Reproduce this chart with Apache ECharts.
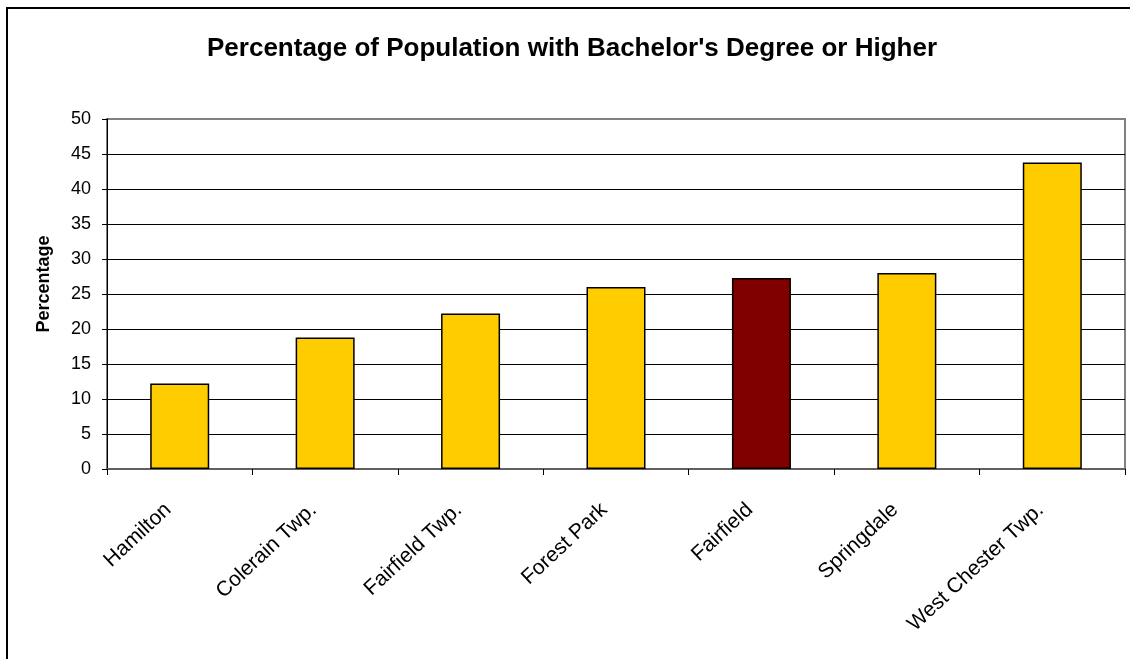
<!DOCTYPE html>
<html>
<head>
<meta charset="utf-8">
<script src="https://cdn.jsdelivr.net/npm/echarts@6/dist/echarts.min.js"></script>
<style>
  html, body { margin: 0; padding: 0; background: #fff; }
  #chart { width: 1130px; height: 659px; }
</style>
</head>
<body>
<div id="chart"></div>
<script>
const categories = ['Hamilton', 'Colerain Twp.', 'Fairfield Twp.', 'Forest Park', 'Fairfield', 'Springdale', 'West Chester Twp.'];
const values = [12.2, 18.8, 22.2, 26.0, 27.3, 28.0, 43.8];
const highlight = 'Fairfield'; // the city itself, shown in dark red
const yTicks = [0, 5, 10, 15, 20, 25, 30, 35, 40, 45, 50];

const chart = echarts.init(document.getElementById('chart'));
const font = '"Liberation Sans", Arial, sans-serif';

chart.setOption({
  animation: false,
  textStyle: { fontFamily: font },
  title: {
    text: "Percentage of Population with Bachelor's Degree or Higher",
    left: 567,
    textAlign: 'center',
    top: 31,
    textStyle: { fontSize: 26, fontWeight: 'bold', color: '#000', fontFamily: font }
  },
  // outer chart frame, runs off the right and bottom of the picture
  graphic: [{
    type: 'rect',
    shape: { x: 7, y: 8, width: 1200, height: 700 },
    style: { fill: 'none', stroke: '#000', lineWidth: 2 },
    silent: true
  }],
  grid: {
    left: 107, right: 5, top: 119, bottom: 190,
    show: true, borderColor: '#808080', borderWidth: 2
  },
  xAxis: {
    type: 'category',
    data: categories,
    axisLine: { lineStyle: { color: '#606060', width: 2 } },
    axisTick: { show: true, alignWithLabel: false, length: 6, lineStyle: { color: '#000' } },
    axisLabel: {
      rotate: 43, fontSize: 21, color: '#000', margin: 27, interval: 0,
      padding: [0, 16, 0, 0], fontFamily: font
    }
  },
  yAxis: {
    type: 'value',
    min: yTicks[0],
    max: yTicks[yTicks.length - 1],
    interval: 5,
    name: 'Percentage',
    nameLocation: 'middle',
    nameGap: 54,
    nameTextStyle: { fontSize: 18, fontWeight: 'bold', color: '#000', fontFamily: font, padding: [0, 0, 0, 20] },
    axisLine: { show: true, lineStyle: { color: '#000', width: 1 } },
    axisTick: { show: true, length: 5, lineStyle: { color: '#000' } },
    axisLabel: { fontSize: 18, color: '#000', margin: 16, fontFamily: font },
    splitLine: { lineStyle: { color: yTicks.map(t => t === 50 ? '#808080' : '#000'), width: 1 } }
  },
  series: [{
    type: 'bar',
    barWidth: 59,
    data: values.map((v, i) => ({
      value: v,
      itemStyle: { color: categories[i] === highlight ? '#800000' : '#FFCC00' }
    })),
    itemStyle: { borderColor: '#000', borderWidth: 1.5 }
  }]
});
</script>
</body>
</html>
